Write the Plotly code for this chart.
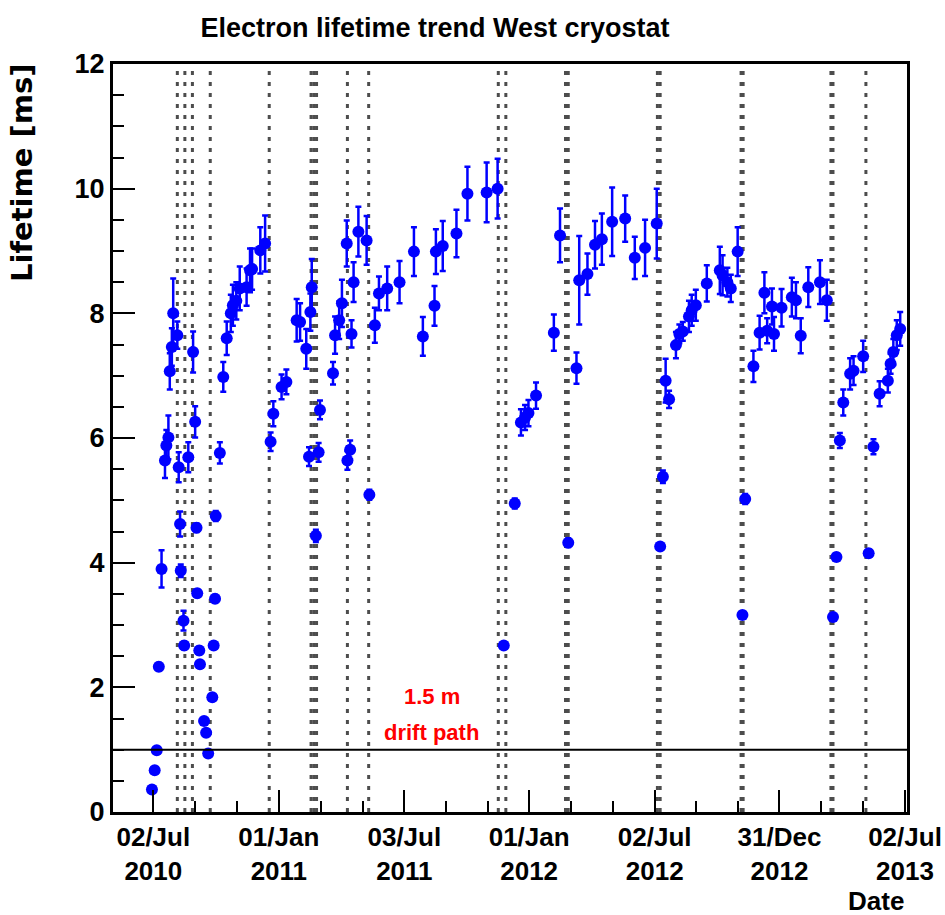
import pandas as pd
import plotly.graph_objects as go

# ---------------- data ----------------
dates = [
    "2010-06-30", "2010-07-04", "2010-07-07", "2010-07-10", "2010-07-14", "2010-07-19", "2010-07-21", "2010-07-24", "2010-07-26", "2010-07-29", "2010-07-31",
    "2010-08-06", "2010-08-08", "2010-08-10", "2010-08-11", "2010-08-15", "2010-08-16", "2010-08-22", "2010-08-29", "2010-09-01", "2010-09-03", "2010-09-04", "2010-09-07", "2010-09-08",
    "2010-09-14", "2010-09-17", "2010-09-20", "2010-09-26", "2010-09-28", "2010-09-30", "2010-10-01", "2010-10-07", "2010-10-12", "2010-10-17", "2010-10-23", "2010-10-26", "2010-10-31",
    "2010-11-05", "2010-11-15", "2010-11-20", "2010-11-23", "2010-12-05", "2010-12-12", "2010-12-20", "2010-12-24",
    "2011-01-05", "2011-01-12", "2011-01-27", "2011-02-01", "2011-02-10", "2011-02-14", "2011-02-16", "2011-02-18", "2011-02-24", "2011-02-28", "2011-03-02",
    "2011-03-21", "2011-03-24", "2011-03-30", "2011-04-03", "2011-04-10", "2011-04-11", "2011-04-15", "2011-04-17", "2011-04-20", "2011-04-27", "2011-05-09", "2011-05-13", "2011-05-21", "2011-05-27", "2011-06-08", "2011-06-26",
    "2011-07-17", "2011-07-30", "2011-08-16", "2011-08-18", "2011-08-28", "2011-09-17", "2011-10-03", "2011-10-31", "2011-11-16", "2011-11-25", "2011-12-11", "2011-12-20", "2011-12-26", "2011-12-31",
    "2012-01-11", "2012-02-06", "2012-02-15", "2012-02-27", "2012-03-10", "2012-03-14", "2012-03-26", "2012-04-06", "2012-04-16", "2012-05-01", "2012-05-20", "2012-06-03", "2012-06-18", "2012-07-05", "2012-07-10", "2012-07-14", "2012-07-18", "2012-07-23",
    "2012-08-02", "2012-08-07", "2012-08-12", "2012-08-21", "2012-08-25", "2012-08-31", "2012-09-16", "2012-10-05", "2012-10-09", "2012-10-16", "2012-10-21", "2012-10-31", "2012-11-07", "2012-11-11", "2012-11-23",
    "2012-12-02", "2012-12-09", "2012-12-13", "2012-12-20", "2012-12-23",
    "2013-01-03", "2013-01-18", "2013-01-24", "2013-01-31", "2013-02-11", "2013-02-28", "2013-03-10", "2013-03-19", "2013-03-24", "2013-03-29", "2013-04-03", "2013-04-13", "2013-04-18", "2013-05-02", "2013-05-10", "2013-05-17", "2013-05-26", "2013-06-07", "2013-06-11", "2013-06-15", "2013-06-20", "2013-06-25",
]

lifetime_ms = [
    0.36, 0.67, 0.99, 2.33, 3.90, 5.64, 5.88, 6.01, 7.07, 7.46, 8.00,
    7.65, 5.53, 4.62, 3.87, 3.07, 2.67, 5.69, 7.38, 6.26, 4.56, 3.51, 2.59, 2.37,
    1.46, 1.27, 0.94, 1.84, 2.67, 3.42, 4.75, 5.76, 6.98, 7.60, 8.00, 8.13, 8.20,
    8.40, 8.42, 8.69, 8.71, 9.01, 9.12, 5.94, 6.39,
    6.82, 6.90, 7.89, 7.86, 7.43, 5.70, 8.02, 8.42, 4.43, 5.77, 6.45,
    7.04, 7.65, 7.89, 8.16, 9.12, 5.64, 5.81, 7.67, 8.50, 9.31, 9.17, 5.09, 7.81, 8.32, 8.40, 8.50,
    8.99, 7.63, 8.12, 8.99, 9.08, 9.28, 9.92, 9.94, 10.00, 2.67, 4.95, 6.25, 6.33, 6.40,
    6.68, 7.69, 9.25, 4.32, 7.12, 8.53, 8.63, 9.10, 9.19, 9.47, 9.52, 8.89, 9.05, 9.44, 4.26, 5.38, 6.92, 6.62,
    7.49, 7.67, 7.71, 7.95, 8.05, 8.13, 8.48, 8.69, 8.61, 8.50, 8.40, 8.99, 3.16, 5.02, 7.15,
    7.69, 8.33, 7.72, 8.11, 7.67,
    8.09, 8.26, 8.21, 7.64, 8.42, 8.50, 8.21, 3.13, 4.09, 5.96, 6.57, 7.03, 7.08, 7.31, 4.15, 5.86, 6.71, 6.92, 7.19, 7.38, 7.65, 7.75,
]

lifetime_err = [
    0.03, 0.03, 0.04, 0.06, 0.30, 0.28, 0.25, 0.35, 0.29, 0.30, 0.56,
    0.22, 0.24, 0.20, 0.10, 0.16, 0.06, 0.24, 0.33, 0.25, 0.07, 0.06, 0.06, 0.05,
    0.05, 0.05, 0.04, 0.05, 0.05, 0.06, 0.08, 0.17, 0.24, 0.27, 0.30, 0.33, 0.30,
    0.35, 0.30, 0.35, 0.33, 0.37, 0.45, 0.15, 0.20,
    0.20, 0.20, 0.34, 0.30, 0.32, 0.15, 0.30, 0.45, 0.10, 0.15, 0.15,
    0.18, 0.30, 0.30, 0.38, 0.37, 0.15, 0.15, 0.22, 0.32, 0.40, 0.39, 0.08, 0.28, 0.27, 0.35, 0.34,
    0.39, 0.31, 0.32, 0.36, 0.40, 0.38, 0.43, 0.48, 0.48, 0.05, 0.08, 0.21, 0.20, 0.21,
    0.21, 0.29, 0.43, 0.07, 0.25, 0.71, 0.33, 0.38, 0.41, 0.55, 0.37, 0.34, 0.45, 0.56, 0.05, 0.10, 0.35, 0.14,
    0.21, 0.15, 0.15, 0.25, 0.25, 0.25, 0.29, 0.38, 0.32, 0.23, 0.22, 0.39, 0.05, 0.08, 0.25,
    0.27, 0.33, 0.20, 0.29, 0.27,
    0.30, 0.31, 0.29, 0.28, 0.32, 0.35, 0.33, 0.05, 0.06, 0.12, 0.21, 0.25, 0.23, 0.25, 0.06, 0.12, 0.20, 0.19, 0.16, 0.21, 0.24, 0.27,
]

# dates of the vertical dashed markers
event_dates = [
    "2010-08-06", "2010-08-17", "2010-08-28", "2010-09-23", "2010-12-18",
    "2011-02-17", "2011-02-21", "2011-02-25", "2011-04-11", "2011-05-12",
    "2011-11-17", "2011-11-28", "2012-02-23", "2012-02-27", "2012-07-06",
    "2012-07-10", "2012-11-05", "2012-11-08", "2013-03-16", "2013-03-19",
    "2013-05-06",
]

tick_dates = ["2010-07-02", "2011-01-01", "2011-07-03", "2012-01-01",
              "2012-07-02", "2012-12-31", "2013-07-02"]
tick_labels = ["02/Jul<br>2010", "01/Jan<br>2011", "03/Jul<br>2011", "01/Jan<br>2012",
               "02/Jul<br>2012", "31/Dec<br>2012", "02/Jul<br>2013"]

x_range = ["2010-05-04 05:00", "2013-07-04 22:00"]
y_range = [0, 12]
threshold_ms = 1.0

# minor ticks: thirds between major ticks
maj = pd.to_datetime(tick_dates)
minor_ticks = []
for a, b in zip(maj[:-1], maj[1:]):
    for k in (1, 2):
        minor_ticks.append((a + (b - a) * k / 3).strftime("%Y-%m-%d %H:%M"))

FONT = "Liberation Sans, Arial, sans-serif"

fig = go.Figure()

fig.add_trace(go.Scatter(
    x=dates, y=lifetime_ms, mode="markers",
    marker=dict(color="#0000ff", size=12, line=dict(width=0)),
    error_y=dict(type="data", array=lifetime_err, color="#0000ff", thickness=2.5, width=3),
    hoverinfo="x+y",
))

shapes = []
for d in event_dates:
    shapes.append(dict(type="line", xref="x", yref="y", x0=d, x1=d, y0=y_range[0], y1=y_range[1],
                       line=dict(color="#4d4d4d", width=3, dash="4px,7px"), layer="below"))
shapes.append(dict(type="line", xref="paper", yref="y", x0=0, x1=1, y0=threshold_ms, y1=threshold_ms,
                   line=dict(color="black", width=2), layer="above"))

annotations = [
    dict(text="1.5 m", x="2011-08-12", y=1.86, xref="x", yref="y", showarrow=False,
         font=dict(family=FONT, size=22, color="#ff0000", weight="bold")),
    dict(text="drift path", x="2011-08-12", y=1.28, xref="x", yref="y", showarrow=False,
         font=dict(family=FONT, size=22, color="#ff0000", weight="bold")),
    dict(text="Date", x=1, y=-89 / 748, xref="paper", yref="paper", xanchor="right", yanchor="middle",
         xshift=-1, showarrow=False, font=dict(family=FONT, size=26, color="black", weight="bold")),
    dict(text="Lifetime [ms]", x=0, y=(812 - 173) / 748, xref="paper", yref="paper",
         xanchor="center", yanchor="middle", xshift=-91, textangle=-90, showarrow=False,
         font=dict(family="DejaVu Sans", size=29, color="black", weight="bold")),
]

fig.update_layout(
    width=945, height=915,
    margin=dict(l=113, r=38, t=64, b=103, autoexpand=False),
    plot_bgcolor="white", paper_bgcolor="white",
    showlegend=False,
    title=dict(text="Electron lifetime trend West cryostat", x=435 / 945, xanchor="center",
               y=1 - 28 / 915, yanchor="middle",
               font=dict(family=FONT, size=27, color="black", weight="bold")),
    shapes=shapes,
    annotations=annotations,
)

fig.update_xaxes(
    type="date", range=x_range, automargin=False,
    tickmode="array", tickvals=tick_dates, ticktext=tick_labels,
    ticks="inside", ticklen=22, tickwidth=2, tickcolor="black",
    minor=dict(tickmode="array", tickvals=minor_ticks, ticks="inside", ticklen=11,
               tickwidth=2, tickcolor="black", showgrid=False),
    showline=True, linecolor="black", linewidth=3, mirror=True,
    showgrid=False, zeroline=False, ticklabeloverflow="allow",
    tickfont=dict(family=FONT, size=26, color="black", weight="bold"),
)

fig.update_yaxes(
    range=y_range, tickmode="array", tickvals=[0, 2, 4, 6, 8, 10, 12], automargin=False,
    ticks="inside", ticklen=22, tickwidth=2, tickcolor="black",
    minor=dict(dtick=0.5, ticks="inside", ticklen=11, tickwidth=2, tickcolor="black", showgrid=False),
    showline=True, linecolor="black", linewidth=3, mirror=True,
    showgrid=False, zeroline=False,
    tickfont=dict(family=FONT, size=27, color="black", weight="bold"),
)

fig.write_html("out.html")
